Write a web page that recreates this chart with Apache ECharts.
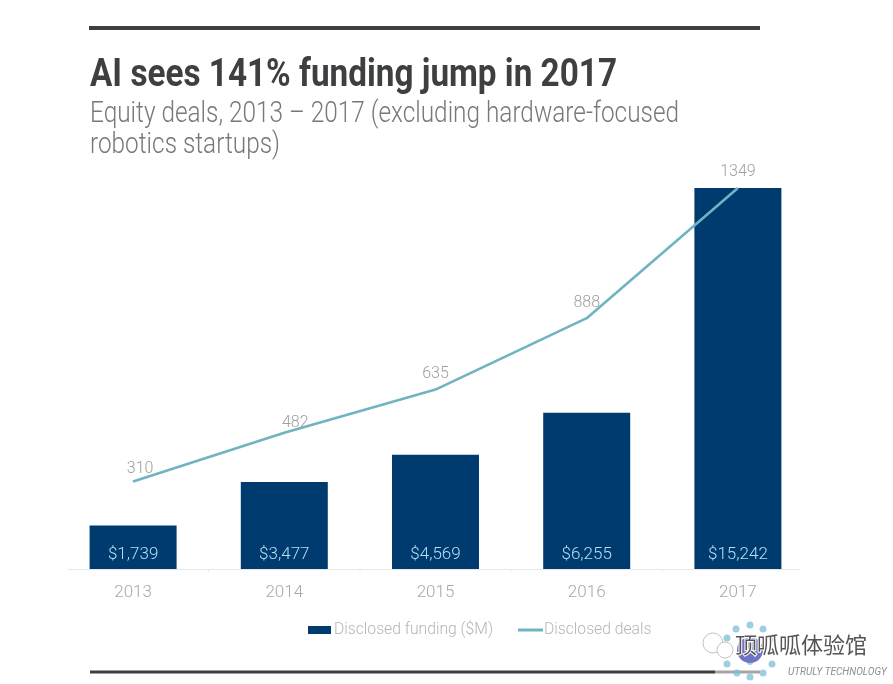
<!DOCTYPE html>
<html><head><meta charset="utf-8">
<style>html,body{margin:0;padding:0;background:#fff}#c{width:893px;height:684px}</style>
<script src="https://cdn.jsdelivr.net/npm/echarts@6/dist/echarts.min.js"></script>
</head><body><div id="c"></div>
<script>
const years = ['2013','2014','2015','2016','2017'];
const funding = [1739,3477,4569,6255,15242];
const deals = [310,482,635,888,1349];
const titleText = 'AI sees 141% funding jump in 2017';
const subtitleLines = ['Equity deals, 2013 – 2017 (excluding hardware-focused','robotics startups)'];
const fundingName = 'Disclosed funding ($M)';
const dealsName = 'Disclosed deals';
const chart = echarts.init(document.getElementById('c'), null, {renderer:'canvas'});
const ctx = document.createElement('canvas').getContext('2d');
const titleFont = 'bold 38px Roboto', subFont = '300 29px Roboto';
ctx.font = titleFont; const titleScale = 527 / ctx.measureText(titleText).width;
ctx.font = subFont; const subScale = 589 / ctx.measureText(subtitleLines[0]).width;
const rule = (x1,x2,y,w,c) => ({type:'line',silent:true,shape:{x1,y1:y,x2,y2:y},style:{stroke:c,lineWidth:w}});
const tick = x => ({type:'line',silent:true,shape:{x1:x,y1:569,x2:x,y2:572},style:{stroke:'#e8e8e8',lineWidth:1}});
const squeezed = (text,x,y,font,fill,scale) => ({type:'text',silent:true,x,y,scaleX:scale,originX:0,originY:0,
  style:{x:0,y:0,text,font,fill,textVerticalAlign:'middle',verticalAlign:'middle'}});
const dots = [[736,629,3.5],[750,625,3.5],[763,629,3.5],[727,638,3.5],[772,638,3.5],[727,664,3.5],[772,664,3.5],[737,673,3.5],[750,677,3.5],[763,673,3.5],[750,662,3]];
const dealLabelNudge = [[7,3],[11,6],[0,0],[0,0],[0,0]];
chart.setOption({
  animation:false,
  backgroundColor:'#fff',
  legend:[
    {data:[{name:fundingName,icon:'rect'}],left:303,top:617,itemWidth:23,itemHeight:8,
     textStyle:{fontFamily:'Roboto',fontWeight:300,fontSize:15.7,color:'#b5b5b5',padding:[0,0,0,-2]}},
    {data:[{name:dealsName,icon:'rect'}],left:513,top:617,itemWidth:25,itemHeight:3,
     textStyle:{fontFamily:'Roboto',fontWeight:300,fontSize:15.7,color:'#b5b5b5',padding:[0,0,0,-4]}}
  ],
  grid:{left:57.5,right:79.5,top:169,height:400},
  xAxis:{type:'category',data:years,axisLine:{show:false},axisTick:{show:false},
    axisLabel:{margin:15,fontFamily:'Roboto',fontWeight:300,fontSize:17,color:'#a8a8a8'}},
  yAxis:[
    {type:'value',min:0,max:16000,show:false},
    {type:'value',min:0,max:1416,show:false}
  ],
  series:[
    {name:fundingName,type:'bar',data:funding,barWidth:87,itemStyle:{color:'#003b70'},yAxisIndex:0,
     label:{show:true,position:'insideBottom',distance:6,formatter:p=>'$'+p.value.toLocaleString('en-US'),
       fontFamily:'Roboto',fontWeight:300,fontSize:17,color:'#b5dff5'}},
    {name:dealsName,type:'line',data:deals.map((v,i)=>({value:v,label:{offset:dealLabelNudge[i]}})),yAxisIndex:1,symbol:'circle',symbolSize:1,showSymbol:true,smooth:false,
     lineStyle:{color:'#6fb4c0',width:2.6},itemStyle:{color:'#6fb4c0'},
     label:{show:true,position:'top',distance:7,fontFamily:'Roboto',fontWeight:300,fontSize:16,color:'#a0a0a0'}}
  ],
  graphic:[
    rule(89,760,28,4,'#3d3f40'),
    rule(90,715,672,3,'#3d3f40'),
    rule(715,760,672,3,'#a5a5a5'),
    rule(68,800,569.5,1,'#e8e8e8'),
    tick(208.5),tick(360),tick(511),tick(662),
    squeezed(titleText,90,76,titleFont,'#3d3f40',titleScale),
    squeezed(subtitleLines[0],90,115,subFont,'#76787a',subScale),
    squeezed(subtitleLines[1],90,146,subFont,'#76787a',subScale),
    ...dots.map(d=>({type:'circle',silent:true,shape:{cx:d[0],cy:d[1],r:d[2]},style:{fill:'#7fbcd8',opacity:.75}})),
    {type:'circle',silent:true,shape:{cx:750,cy:650,r:13},style:{fill:'#6f74c4'}},
    {type:'circle',silent:true,shape:{cx:713,cy:643,r:10},style:{fill:'none',stroke:'#c4c4c4',lineWidth:1}},
    {type:'circle',silent:true,shape:{cx:725,cy:650,r:8},style:{fill:'#fff',stroke:'#c4c4c4',lineWidth:1}},
    {type:'text',silent:true,style:{x:735,y:634,text:'顶呱呱体验馆',fontFamily:'Noto Sans CJK SC',fontSize:22,fill:'#555',stroke:'#fff',lineWidth:2}},
    {type:'text',silent:true,style:{x:788,y:667,text:'UTRULY TECHNOLOGY',fontFamily:'Roboto',fontSize:10,fontStyle:'italic',fill:'#8a8f98'}}
  ]
});
</script></body></html>
